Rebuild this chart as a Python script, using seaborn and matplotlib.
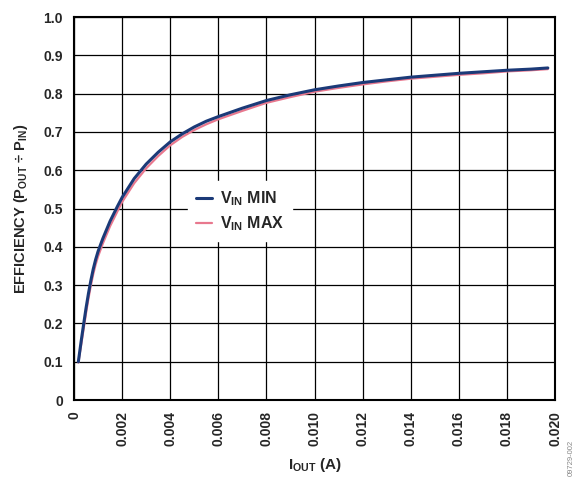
import numpy as np
import pandas as pd
import seaborn as sns
import matplotlib
matplotlib.use('Agg')
import matplotlib.pyplot as plt
from matplotlib.lines import Line2D

iout = [0.00018, 0.0003, 0.0004, 0.0005, 0.0006, 0.0007, 0.0008, 0.0009, 0.001, 0.0012,
        0.0015, 0.0018, 0.002, 0.0025, 0.003, 0.0035, 0.004, 0.0045, 0.005, 0.0055,
        0.006, 0.007, 0.008, 0.009, 0.010, 0.011, 0.012, 0.013, 0.014, 0.015,
        0.016, 0.017, 0.018, 0.019, 0.0197]
eff_vin_min = [0.10, 0.155, 0.198, 0.240, 0.278, 0.312, 0.342, 0.367, 0.388, 0.422,
               0.467, 0.505, 0.529, 0.578, 0.616, 0.647, 0.674, 0.695, 0.713, 0.728,
               0.740, 0.762, 0.782, 0.797, 0.810, 0.820, 0.829, 0.836, 0.843, 0.848,
               0.853, 0.857, 0.861, 0.864, 0.867]
eff_vin_max = [0.098, 0.145, 0.186, 0.227, 0.265, 0.299, 0.329, 0.354, 0.375, 0.409,
               0.454, 0.492, 0.517, 0.566, 0.605, 0.637, 0.665, 0.687, 0.705, 0.720,
               0.733, 0.755, 0.776, 0.791, 0.805, 0.815, 0.824, 0.832, 0.839, 0.844,
               0.849, 0.853, 0.858, 0.861, 0.864]

xticks = [0, 0.002, 0.004, 0.006, 0.008, 0.010, 0.012, 0.014, 0.016, 0.018, 0.020]
xtick_labels = ['0', '0.002', '0.004', '0.006', '0.008', '0.010', '0.012', '0.014',
                '0.016', '0.018', '0.020']
yticks = [0, 0.1, 0.2, 0.3, 0.4, 0.5, 0.6, 0.7, 0.8, 0.9, 1.0]
ytick_labels = ['0', '0.1', '0.2', '0.3', '0.4', '0.5', '0.6', '0.7', '0.8', '0.9', '1.0']

sns.set_style('white')
plt.rcParams['font.family'] = ['Liberation Sans', 'DejaVu Sans']
plt.rcParams['mathtext.fontset'] = 'custom'
plt.rcParams['mathtext.rm'] = 'Liberation Sans:bold'
plt.rcParams['mathtext.it'] = 'Liberation Sans:bold'
plt.rcParams['mathtext.bf'] = 'Liberation Sans:bold'

df = pd.DataFrame({'iout': iout, 'vmin': eff_vin_min, 'vmax': eff_vin_max})

blue = '#1b3a78'
pink = '#e8788e'

fig = plt.figure(figsize=(5.8, 4.82), dpi=100)
ax = fig.add_axes([0.1276, 0.170, 0.8294, 0.7947])

sns.lineplot(data=df, x='iout', y='vmax', color=pink, linewidth=1.6, ax=ax)
sns.lineplot(data=df, x='iout', y='vmin', color=blue, linewidth=2.2, ax=ax)

ax.set_xlim(0, 0.020)
ax.set_ylim(0, 1.0)
ax.set_xticks(xticks)
ax.set_xticklabels(xtick_labels, rotation=90, fontsize=10, fontweight='bold')
ax.set_yticks(yticks)
ax.set_yticklabels(ytick_labels, fontsize=10, fontweight='bold')
ax.tick_params(length=0, pad=8)
ax.grid(True, color='black', linewidth=0.9)
for s in ax.spines.values():
    s.set_color('black')
    s.set_linewidth(1.5)

ax.set_xlabel('I$_{OUT}$ (A)', fontsize=11, fontweight='bold', labelpad=7)
ax.set_ylabel('EFFICIENCY (P$_{OUT}$ ÷ P$_{IN}$)', fontsize=10.5, fontweight='bold', labelpad=10)

handles = [Line2D([], [], color=blue, lw=2.2), Line2D([], [], color=pink, lw=1.6)]
leg = ax.legend(handles, ['V$_{IN}$ MIN', 'V$_{IN}$ MAX'], loc='center',
                bbox_to_anchor=(0.345, 0.493), frameon=True, fancybox=False,
                handlelength=1.0, handletextpad=0.5, labelspacing=0.4,
                borderpad=0.5, prop={'size': 11.5, 'weight': 'bold'})
leg.get_frame().set_edgecolor('white')
leg.get_frame().set_alpha(1)

fig.text(0.985, 0.05, '09729-002', rotation=90, fontsize=5.5, color='#888888',
         ha='center', va='center')

fig.savefig('out.png', dpi=100)
